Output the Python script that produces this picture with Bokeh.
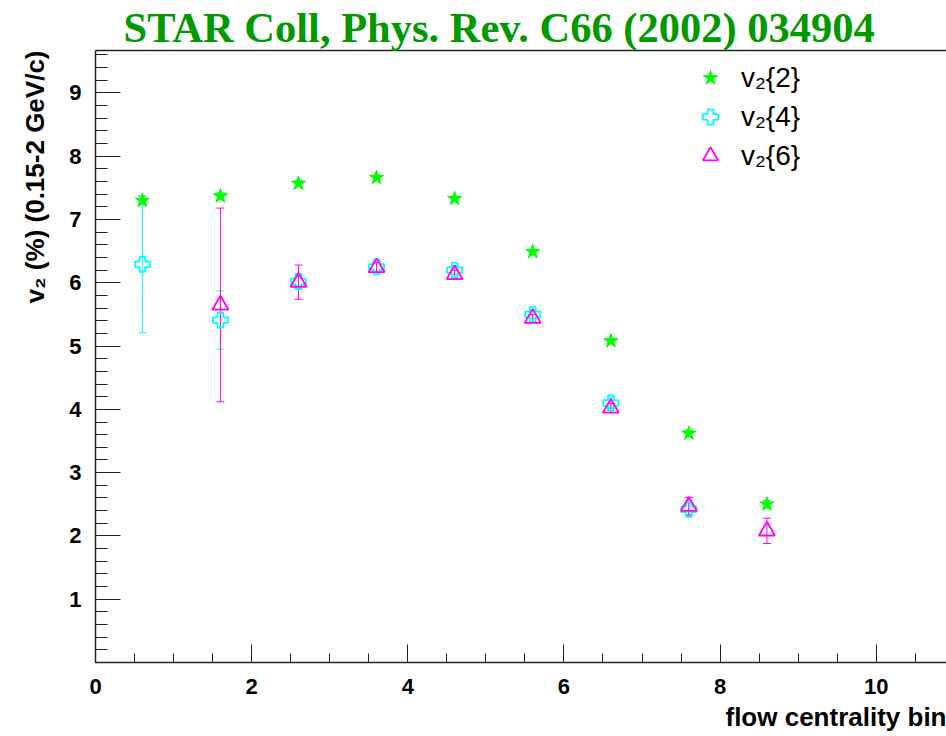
import math
from bokeh.plotting import figure
from bokeh.models import (ColumnDataSource, Whisker, TeeHead, Legend, LegendItem, Title,
                          SingleIntervalTicker, LinearAxis, FixedTicker, Range1d)
from bokeh.embed import file_html
from bokeh.resources import INLINE

# ---- data ----
x_v2_2 = [0.6, 1.6, 2.6, 3.6, 4.6, 5.6, 6.6, 7.6, 8.6]
v2_2 = [7.30, 7.37, 7.57, 7.66, 7.33, 6.49, 5.08, 3.62, 2.50]
e2_2 = [0.07, 0.05, 0.04, 0.04, 0.04, 0.04, 0.04, 0.05, 0.06]

x_v2_4 = [0.6, 1.6, 2.6, 3.6, 4.6, 5.6, 6.6, 7.6]
v2_4 = [6.29, 5.41, 6.02, 6.25, 6.20, 5.50, 4.10, 2.42]
e2_4 = [1.08, 0.46, 0.12, 0.07, 0.07, 0.07, 0.08, 0.10]

x_v2_6 = [1.6, 2.6, 3.6, 4.6, 5.6, 6.6, 7.6, 8.6]
v2_6 = [5.65, 6.01, 6.24, 6.13, 5.44, 4.02, 2.47, 2.08]
e2_6 = [1.53, 0.27, 0.08, 0.07, 0.06, 0.07, 0.14, 0.20]

title_text = "STAR Coll, Phys. Rev. C66 (2002) 034904"
x_title = "flow centrality bin"
y_title = "v\u2082 (%) (0.15-2 GeV/c)"
legend_labels = ["v\u2082{2}", "v\u2082{4}", "v\u2082{6}"]

W, H = 946, 736
FL, FT, FB = 94, 50, 74
FW, FH = W - FL, H - FT - FB

p = figure(width=W, height=H, output_backend="svg", toolbar_location=None,
           x_range=Range1d(0, 10.9), y_range=Range1d(0, 9.67),
           min_border_left=FL, min_border_right=0, min_border_top=FT, min_border_bottom=FB)
p.xgrid.grid_line_color = None
p.ygrid.grid_line_color = None
p.outline_line_color = None
p.background_fill_color = "white"
p.border_fill_color = "white"

AXC = "#222222"
xa = p.xaxis[0]
xa.ticker = SingleIntervalTicker(interval=2, num_minor_ticks=4)
xa.major_tick_in = 18
xa.major_tick_out = 0
xa.minor_tick_in = 9
xa.minor_tick_out = 0
xa.axis_line_width = 1.5
xa.axis_line_color = AXC
xa.major_tick_line_color = AXC
xa.minor_tick_line_color = AXC
xa.major_label_text_font = "Liberation Sans"
xa.major_label_text_font_style = "bold"
xa.major_label_text_font_size = "22px"
xa.major_label_text_color = "black"
xa.major_label_standoff = 16

ya = p.yaxis[0]
ya.ticker = SingleIntervalTicker(interval=1, num_minor_ticks=5)
ya.major_tick_in = 25
ya.major_tick_out = 0
ya.minor_tick_in = 12
ya.minor_tick_out = 0
ya.axis_line_width = 1.5
ya.axis_line_color = AXC
ya.major_tick_line_color = AXC
ya.minor_tick_line_color = AXC
ya.major_label_text_font = "Liberation Sans"
ya.major_label_text_font_style = "bold"
ya.major_label_text_font_size = "22px"
ya.major_label_text_color = "black"
ya.major_label_standoff = 14
ya.major_label_overrides = {0: ""}

top_axis = LinearAxis(ticker=FixedTicker(ticks=[]), major_label_text_font_size="0px",
                      major_tick_in=0, major_tick_out=0, minor_tick_in=0, minor_tick_out=0,
                      major_label_standoff=0, axis_label_standoff=0,
                      axis_line_width=1.5, axis_line_color=AXC)
p.add_layout(top_axis, "above")

# ---- data glyphs ----
series = [
    (x_v2_2, v2_2, e2_2, "#00ff00", "star", 15, True),
    (x_v2_4, v2_4, e2_4, "#00ffff", "plus", 15, False),
    (x_v2_6, v2_6, e2_6, "#ff00ff", "triangle", 16, False),
]
renderers = []
for xs, ys, es, col, mk, sz, filled in series:
    src = ColumnDataSource(dict(x=xs, y=ys,
                                lo=[a - b for a, b in zip(ys, es)],
                                hi=[a + b for a, b in zip(ys, es)]))
    wh = Whisker(base="x", lower="lo", upper="hi", source=src,
                 line_color=col, line_width=1,
                 upper_head=TeeHead(size=8, line_color=col, line_width=1),
                 lower_head=TeeHead(size=8, line_color=col, line_width=1))
    p.add_layout(wh)
    if filled:
        r = p.scatter("x", "y", source=src, marker=mk, size=sz,
                      fill_color=col, line_color=col, line_width=1)
    else:
        r = p.scatter("x", "y", source=src, marker=mk, size=sz,
                      fill_color=None, line_color=col, line_width=1.8)
    renderers.append(r)

legend = Legend(items=[LegendItem(label=lab, renderers=[r]) for lab, r in zip(legend_labels, renderers)],
                location=(596, 487), border_line_color=None, background_fill_alpha=0,
                padding=0, spacing=0, margin=0, glyph_width=38, glyph_height=39, label_height=39,
                label_standoff=12, label_text_font="Liberation Sans",
                label_text_font_size="28px", label_text_color="black")
p.add_layout(legend)

# ---- titles ----
p.add_layout(Title(text=title_text, align="left", offset=28, standoff=0,
                   text_font="Liberation Serif", text_font_style="bold",
                   text_font_size="42.5px", text_color="#009900"), "above")
p.add_layout(Title(text=x_title, align="right", standoff=6,
                   text_font="Liberation Sans", text_font_style="bold",
                   text_font_size="26px", text_color="black"), "below")
p.add_layout(Title(text=y_title, align="right", standoff=34,
                   text_font="Liberation Sans", text_font_style="bold",
                   text_font_size="26px", text_color="black"), "left")

open("out.html", "w").write(file_html(p, INLINE))
